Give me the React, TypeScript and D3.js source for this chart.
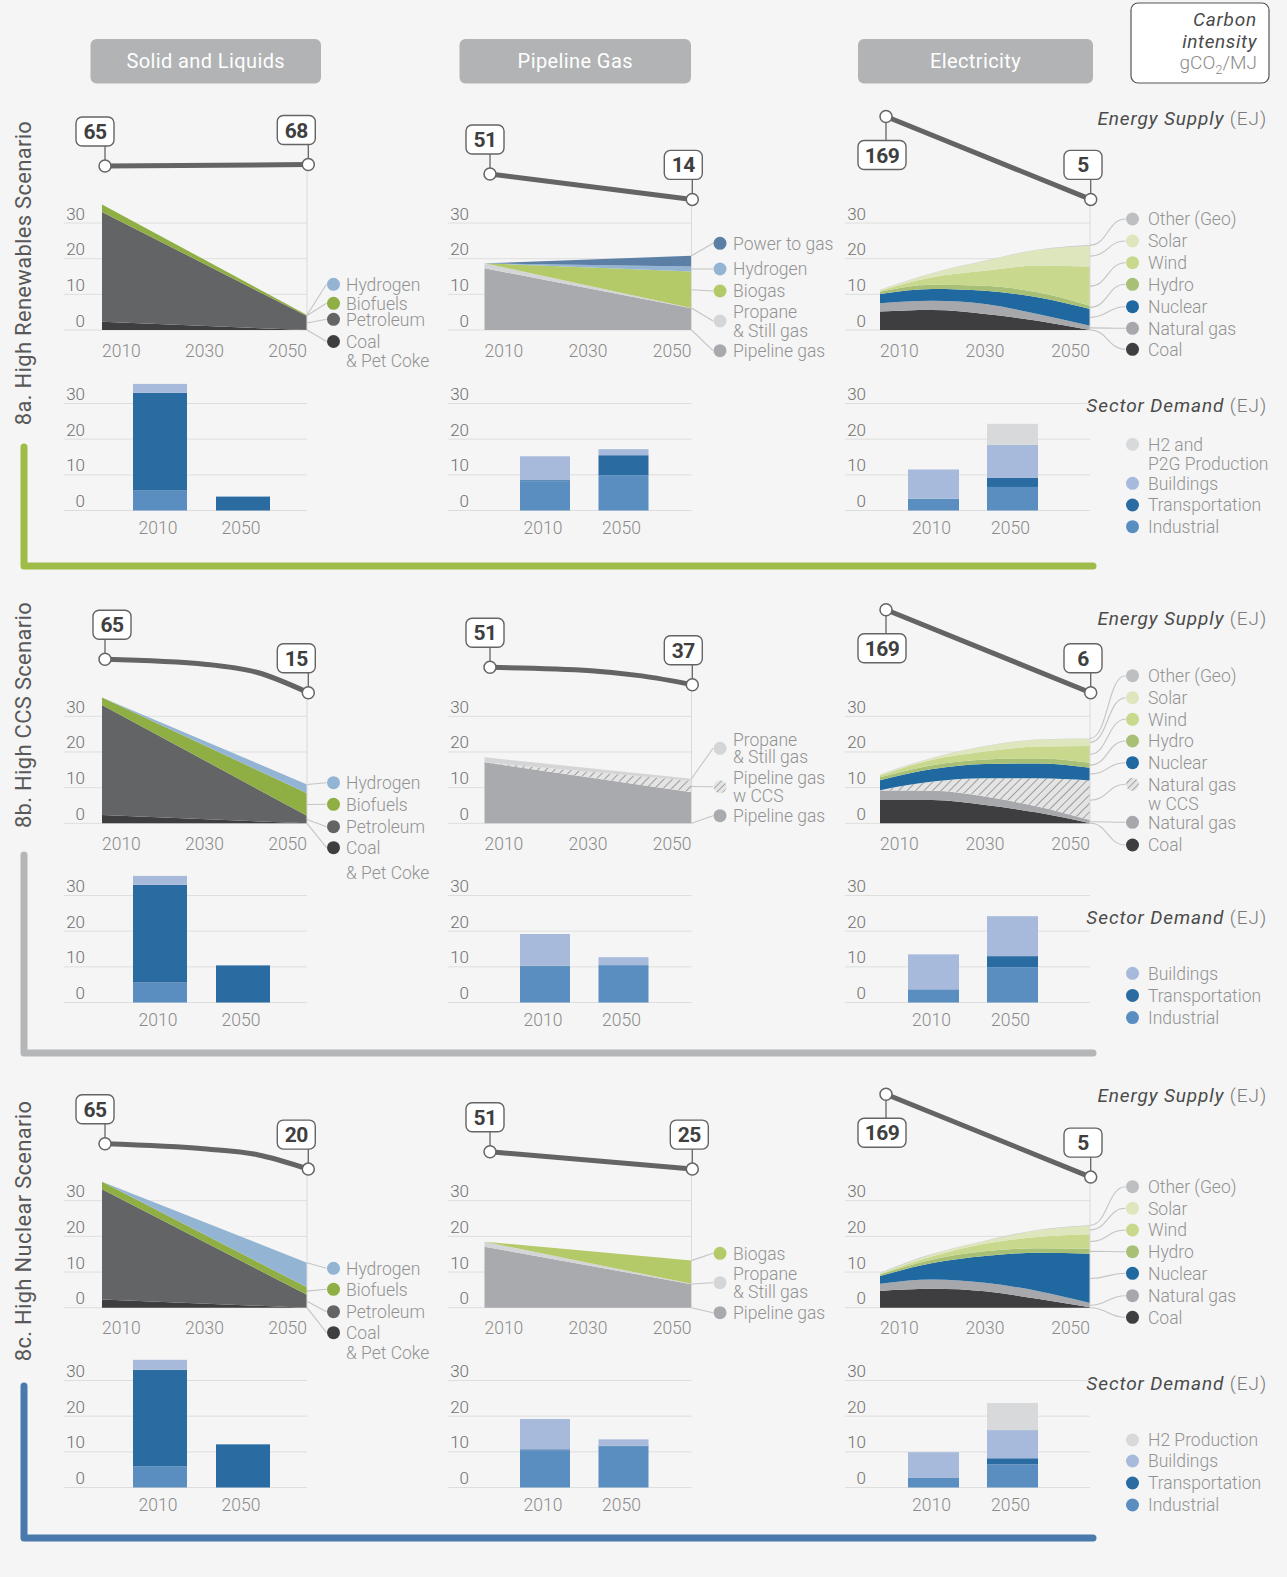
import React from 'react';
import * as d3 from 'd3';

const W = 1287;
const H = 1577;

// ================= DATA =================
const COLUMN_TITLES = ['Solid and Liquids', 'Pipeline Gas', 'Electricity'];
const SCENARIO_TITLES = ['8a. High Renewables Scenario', '8b. High CCS Scenario', '8c. High Nuclear Scenario'];
const Y_TICKS = [0, 10, 20, 30];
const X_TICKS = [2010, 2030, 2050];
const BAR_YEARS = ['2010', '2050'];
const TWO_YEARS = [2010, 2050];
const FIVE_YEARS = [2010, 2020, 2030, 2040, 2050];
const CURVE_YEARS = [2010, 2030, 2040, 2050];

// Solid and liquids supply (EJ), layers bottom -> top
const SL_KEYS = ['coal', 'petroleum', 'biofuels', 'hydrogen'];
const slRenewables = { coal: [2.3, 0], petroleum: [30.8, 3.9], biofuels: [2.1, 0.3], hydrogen: [0, 0] };
const slCcs = { coal: [2.3, 0], petroleum: [30.9, 2.1], biofuels: [2.1, 6.3], hydrogen: [0, 2.5] };
const slNuclear = { coal: [2.3, 0], petroleum: [30.9, 3.6], biofuels: [2.1, 2.1], hydrogen: [0, 6.9] };

// Pipeline gas supply (EJ)
const PG_KEYS_RENEWABLES = ['pipeline', 'propane', 'biogas', 'hydrogen', 'p2g'];
const pgRenewables = { pipeline: [17.3, 6.1], propane: [1.4, 0.1], biogas: [0, 10.2], hydrogen: [0, 1.4], p2g: [0, 3.0] };
const PG_KEYS_CCS = ['pipeline', 'pipelineCcs', 'propane'];
const pgCcs = { pipeline: [17.1, 8.7], pipelineCcs: [0, 3.2], propane: [1.4, 0.6] };
const PG_KEYS_NUCLEAR = ['pipeline', 'propane', 'biogas'];
const pgNuclear = { pipeline: [17.1, 6.6], propane: [1.4, 0.1], biogas: [0, 6.5] };

// Electricity supply (EJ)
const EL_KEYS = ['coal', 'natgas', 'nuclear', 'hydro', 'wind', 'solar', 'other'];
const EL_KEYS_CCS = ['coal', 'natgas', 'natgasCcs', 'nuclear', 'hydro', 'wind', 'solar', 'other'];
const elRenewables = {
  coal: [5.2, 5.6, 4.5, 2.6, 0],
  natgas: [2.3, 2.6, 2.8, 1.9, 1.2],
  nuclear: [2.6, 3.3, 3.7, 4.7, 4.7],
  hydro: [0.6, 1.2, 1.4, 1.4, 0.9],
  wind: [0.3, 2.1, 4.2, 7.4, 11.0],
  solar: [0.2, 1.1, 2.8, 4.4, 5.8],
  other: [0.1, 0.1, 0.1, 0.1, 0.2],
};
const elCcs = {
  coal: [6.5, 6.5, 5.1, 3.0, 0],
  natgas: [2.7, 2.6, 2.4, 1.7, 0.9],
  natgasCcs: [0.1, 2.6, 5.1, 7.9, 11.1],
  nuclear: [2.8, 3.5, 4.0, 4.2, 3.6],
  hydro: [0.8, 1.1, 1.3, 1.4, 1.4],
  wind: [0.5, 1.5, 2.2, 3.3, 4.7],
  solar: [0.2, 0.5, 1.5, 1.9, 2.0],
  other: [0.1, 0.1, 0.1, 0.1, 0.1],
};
const elNuclear = {
  coal: [4.7, 5.3, 4.6, 2.5, 0.1],
  natgas: [2.0, 2.6, 2.4, 2.2, 1.2],
  nuclear: [2.2, 4.6, 7.5, 10.7, 13.8],
  hydro: [0.4, 1.0, 1.3, 1.3, 1.4],
  wind: [0.2, 0.9, 2.1, 3.1, 4.1],
  solar: [0.2, 0.6, 0.8, 1.9, 2.4],
  other: [0.1, 0.1, 0.1, 0.1, 0.1],
};

// Sector demand (EJ), 2010 / 2050
const BAR_KEYS = ['industrial', 'transportation', 'buildings', 'h2'];
const demRenewablesSl = { industrial: [5.6, 0], transportation: [27.4, 3.9], buildings: [2.5, 0], h2: [0, 0] };
const demRenewablesPg = { industrial: [8.2, 9.9], transportation: [0.3, 5.6], buildings: [6.7, 1.7], h2: [0, 0] };
const demRenewablesEl = { industrial: [3.3, 6.6], transportation: [0, 2.6], buildings: [8.2, 9.2], h2: [0, 5.9] };
const demCcsSl = { industrial: [5.6, 0], transportation: [27.4, 10.4], buildings: [2.5, 0], h2: [0, 0] };
const demCcsPg = { industrial: [10.1, 10.4], transportation: [0.2, 0.1], buildings: [8.9, 2.2], h2: [0, 0] };
const demCcsEl = { industrial: [3.7, 9.9], transportation: [0, 3.1], buildings: [9.8, 11.2], h2: [0, 0] };
const demNuclearSl = { industrial: [5.9, 0], transportation: [27.1, 12.1], buildings: [2.8, 0], h2: [0, 0] };
const demNuclearPg = { industrial: [10.4, 11.5], transportation: [0.3, 0.2], buildings: [8.5, 1.8], h2: [0, 0] };
const demNuclearEl = { industrial: [2.8, 6.5], transportation: [0, 1.7], buildings: [7.1, 7.9], h2: [0, 7.6] };

// Carbon intensity (gCO2/MJ)
const intRenewablesSl = [65, 68];
const intRenewablesPg = [51, 14];
const intRenewablesEl = [169, 5];
const intCcsSl = [65, 56, 46.8, 15];
const intCcsPg = [51, 48.3, 44.1, 37];
const intCcsEl = [169, 6];
const intNuclearSl = [65, 55.7, 48.6, 20];
const intNuclearPg = [51, 25];
const intNuclearEl = [169, 5];

// legend labels
const SL_LABELS = { hydrogen: ['Hydrogen'], biofuels: ['Biofuels'], petroleum: ['Petroleum'], coal: ['Coal', '& Pet Coke'] };
const PG_LABELS = {
  p2g: ['Power to gas'], hydrogen: ['Hydrogen'], biogas: ['Biogas'], propane: ['Propane', '& Still gas'],
  pipelineCcs: ['Pipeline gas', 'w CCS'], pipeline: ['Pipeline gas'],
};
const EL_LABELS = {
  other: ['Other (Geo)'], solar: ['Solar'], wind: ['Wind'], hydro: ['Hydro'], nuclear: ['Nuclear'],
  natgasCcs: ['Natural gas', 'w CCS'], natgas: ['Natural gas'], coal: ['Coal'],
};
const BAR_LABELS_RENEWABLES = { h2: ['H2 and', 'P2G Production'], buildings: ['Buildings'], transportation: ['Transportation'], industrial: ['Industrial'] };
const BAR_LABELS_CCS = { buildings: ['Buildings'], transportation: ['Transportation'], industrial: ['Industrial'] };
const BAR_LABELS_NUCLEAR = { h2: ['H2 Production'], buildings: ['Buildings'], transportation: ['Transportation'], industrial: ['Industrial'] };

// ================= STYLE / LAYOUT =================
const FONT = "Roboto, 'Noto Sans', 'DejaVu Sans', sans-serif";
const C = {
  bg: '#f5f5f5', grid: '#dedede', tick: '#6f6f6f', year: '#8a8a8a', legend: '#929292',
  dark: '#3f3f3f', leader: '#c4c4c4', line: '#646464', header: '#b1b3b5',
};
const FILL: Record<string, string> = {
  coal: '#3e3e40', petroleum: '#636466', biofuels: '#8fae44', hydrogen: '#94b4d3',
  pipeline: '#a9aaad', propane: '#d4d5d7', biogas: '#b4ca69', p2g: '#5c7fa6', pipelineCcs: 'url(#hatch)',
  natgas: '#a7a8ab', natgasCcs: 'url(#hatch)', nuclear: '#1f68a0', hydro: '#a8c076', wind: '#c8d88d',
  solar: '#dde6bd', other: '#bebfc1',
  industrial: '#5b8ec0', transportation: '#2a6ba2', buildings: '#a8badb', h2: '#d8d9db',
};
const ROW_COLORS = ['#9fbc48', '#b4b6b8', '#4a79ae'];

const COLS: Record<string, any> = {
  sl: { x0: 102, x1: 307, ix0: 105, ix1: 308.3, firstDx: -29, lastDx: -31, gridX0: 64, tickX: 85, dotX: 333.5, textX: 346, barCenters: [160, 243], barW: 54, curved: false },
  pg: { x0: 484.5, x1: 691.5, ix0: 490, ix1: 692.3, firstDx: -24, lastDx: -28, gridX0: 448, tickX: 469, dotX: 720, textX: 733, barCenters: [545, 623.5], barW: 50, curved: false },
  el: { x0: 880, x1: 1090, ix0: 886, ix1: 1090.7, firstDx: -28, lastDx: -26.7, gridX0: 845, tickX: 866, dotX: 1132.5, textX: 1148, barCenters: [933.5, 1012.5], barW: 51, curved: true },
};
const ROWS = [
  { areaBase: 330, barBase: 510.5, labelCy: 273, bracket: [447, 566], esY: 125, sdY: 411.7 },
  { areaBase: 823.3, barBase: 1002.5, labelCy: 715, bracket: [855, 1053], esY: 625, sdY: 923.7 },
  { areaBase: 1307.7, barBase: 1487.5, labelCy: 1231, bracket: [1386, 1538], esY: 1101.7, sdY: 1390.3 },
];
const PX_PER_30 = 107;
const INT_DOMAIN = [5, 15, 20, 37, 51, 65, 169];
const INT_OFFSETS = [33.4, 33.4, 25.4, 25.4, 8, 0, -49.5];

const AREA_PANELS = [
  { row: 0, col: 'sl', years: TWO_YEARS, keys: SL_KEYS, series: slRenewables, labels: SL_LABELS, legendY: [284.3, 303.3, 319.3, 341.5], gap: 19, intYears: TWO_YEARS, intensity: intRenewablesSl },
  { row: 0, col: 'pg', years: TWO_YEARS, keys: PG_KEYS_RENEWABLES, series: pgRenewables, labels: PG_LABELS, legendY: [243.3, 269, 291, 321, 350.7], gap: 18.5, intYears: TWO_YEARS, intensity: intRenewablesPg },
  { row: 0, col: 'el', years: FIVE_YEARS, keys: EL_KEYS, series: elRenewables, labels: EL_LABELS, legendY: [219, 241, 262.7, 284.3, 306.7, 328.3, 349.3], gap: 19, intYears: TWO_YEARS, intensity: intRenewablesEl },
  { row: 1, col: 'sl', years: TWO_YEARS, keys: SL_KEYS, series: slCcs, labels: SL_LABELS, legendY: [782.7, 804.3, 826.7, 847.7], gap: 24.5, intYears: CURVE_YEARS, intensity: intCcsSl, firstDx: -12 },
  { row: 1, col: 'pg', years: TWO_YEARS, keys: PG_KEYS_CCS, series: pgCcs, labels: PG_LABELS, legendY: [748.3, 786.7, 815.7], gap: 17.5, intYears: CURVE_YEARS, intensity: intCcsPg },
  { row: 1, col: 'el', years: FIVE_YEARS, keys: EL_KEYS_CCS, series: elCcs, labels: EL_LABELS, legendY: [675.7, 697.7, 719.3, 741, 762.7, 784.3, 822.3, 845], gap: 19, intYears: TWO_YEARS, intensity: intCcsEl },
  { row: 2, col: 'sl', years: TWO_YEARS, keys: SL_KEYS, series: slNuclear, labels: SL_LABELS, legendY: [1268.3, 1289.3, 1311.7, 1332.7], gap: 20, intYears: CURVE_YEARS, intensity: intNuclearSl },
  { row: 2, col: 'pg', years: TWO_YEARS, keys: PG_KEYS_NUCLEAR, series: pgNuclear, labels: PG_LABELS, legendY: [1253.3, 1282.7, 1312.7], gap: 18.3, intYears: TWO_YEARS, intensity: intNuclearPg, lastDx: -22 },
  { row: 2, col: 'el', years: FIVE_YEARS, keys: EL_KEYS, series: elNuclear, labels: EL_LABELS, legendY: [1186.7, 1208.3, 1230, 1251.7, 1273.3, 1295.7, 1317.3], gap: 19, intYears: TWO_YEARS, intensity: intNuclearEl },
];
// multi-line labels whose dot sits in the middle of the lines
const MIDDLE_DOT = new Set(['propane', 'pipelineCcs']);

const BAR_PANELS = [
  { row: 0, col: 'sl', data: demRenewablesSl },
  { row: 0, col: 'pg', data: demRenewablesPg },
  { row: 0, col: 'el', data: demRenewablesEl, labels: BAR_LABELS_RENEWABLES, legendY: [444.3, 483.3, 505, 526.7] },
  { row: 1, col: 'sl', data: demCcsSl },
  { row: 1, col: 'pg', data: demCcsPg },
  { row: 1, col: 'el', data: demCcsEl, labels: BAR_LABELS_CCS, legendY: [973.3, 995.4, 1017.6] },
  { row: 2, col: 'sl', data: demNuclearSl },
  { row: 2, col: 'pg', data: demNuclearPg },
  { row: 2, col: 'el', data: demNuclearEl, labels: BAR_LABELS_NUCLEAR, legendY: [1440, 1461, 1483, 1505] },
];

const HEADERS = [
  { x: 90.5, w: 230.5 },
  { x: 459.5, w: 231.5 },
  { x: 858, w: 235 },
];

// ================= COMPONENTS =================
function yScale(base: number) {
  return d3.scaleLinear().domain([0, 30]).range([base, base - PX_PER_30]);
}

function Axis({ col, base }: any) {
  const y = yScale(base);
  return (
    <g>
      {Y_TICKS.map((t) => (
        <g key={t}>
          <line x1={col.gridX0} x2={col.x1} y1={y(t)} y2={y(t)} stroke={C.grid} strokeWidth={1} />
          <text x={col.tickX} y={y(t) - 3.5} textAnchor="end" fontSize={17} fontWeight={300} fill={C.tick}>
            {t}
          </text>
        </g>
      ))}
    </g>
  );
}

function LegendItem({ dotX, textX, y, lines, fill, middle, gap }: any) {
  const n = lines.length;
  return (
    <g>
      <circle cx={dotX} cy={y} r={6.5} fill={fill} />
      {lines.map((l: string, i: number) => {
        const ly = middle ? y + (i - (n - 1) / 2) * gap : y + i * gap;
        return (
          <text key={i} x={textX} y={ly} dy="0.36em" fontSize={17.5} fontWeight={300} fill={C.legend}>
            {l}
          </text>
        );
      })}
    </g>
  );
}

function ValueBox({ cx, cy, value, below, dx }: any) {
  const txt = String(value);
  const w = Math.max(38, txt.length * 11 + 15);
  const h = 29;
  const left = cx + dx;
  const top = below ? cy + 24 : cy - 20 - h;
  return (
    <g>
      <line x1={cx} x2={cx} y1={below ? cy + 6 : top + h} y2={below ? top : cy - 6} stroke={C.line} strokeWidth={1.3} />
      <rect x={left} y={top} width={w} height={h} rx={6} fill="#fff" stroke={C.line} strokeWidth={1.4} />
      <text x={left + w / 2} y={top + 22} textAnchor="middle" fontSize={21} fontWeight={700} letterSpacing={-0.5} fill={C.dark}>
        {txt}
      </text>
    </g>
  );
}

function AreaPanel({ p }: any) {
  const col = COLS[p.col];
  const base = ROWS[p.row].areaBase;
  const x = d3.scaleLinear().domain([2010, 2050]).range([col.x0, col.x1]);
  const xi = d3.scaleLinear().domain([2010, 2050]).range([col.ix0, col.ix1]);
  const y = yScale(base);
  const table = p.years.map((yr: number, i: number) => {
    const o: any = { year: yr };
    p.keys.forEach((k: string) => (o[k] = p.series[k][i]));
    return o;
  });
  const stacked = d3.stack<any>().keys(p.keys)(table);
  const area = d3
    .area<any>()
    .x((d) => x(d.data.year))
    .y0((d) => y(d[0]))
    .y1((d) => y(d[1]))
    .curve(col.curved ? d3.curveMonotoneX : d3.curveLinear);

  const iy = d3.scaleLinear().domain(INT_DOMAIN).range(INT_OFFSETS.map((o) => base - 164 + o));
  const pts: [number, number][] = p.intensity.map((v: number, i: number) => [xi(p.intYears[i]), iy(v)]);
  const line = d3.line().curve(d3.curveMonotoneX)(pts) as string;
  const first = pts[0];
  const last = pts[pts.length - 1];

  const legendKeys = [...p.keys].reverse();
  const link = d3.linkHorizontal();

  return (
    <g>
      <Axis col={col} base={base} />
      {stacked.map((layer: any) => (
        <path key={layer.key} d={area(layer) as string} fill={FILL[layer.key]} />
      ))}
      <line x1={col.x1} x2={col.x1} y1={last[1]} y2={base} stroke="#dadada" strokeWidth={1} />
      {legendKeys.map((k: string, i: number) => {
        const ki = p.keys.indexOf(k);
        const layer = stacked[ki];
        const end = layer[layer.length - 1];
        let sy: number;
        if (ki === p.keys.length - 1) sy = y(end[1]);
        else if (ki === 0) sy = y(end[0]);
        else sy = y((end[0] + end[1]) / 2);
        const ty = p.legendY[i];
        const tx = col.dotX - 7;
        const d = col.curved
          ? (link({ source: [col.x1, sy], target: [tx, ty] } as any) as string)
          : `M${col.x1},${sy}L${tx},${ty}`;
        return <path key={k} d={d} fill="none" stroke={C.leader} strokeWidth={1.1} />;
      })}
      {legendKeys.map((k: string, i: number) => (
        <LegendItem
          key={k}
          dotX={col.dotX}
          textX={col.textX}
          y={p.legendY[i]}
          lines={p.labels[k]}
          fill={k.endsWith('Ccs') ? 'url(#hatchSmall)' : FILL[k]}
          middle={MIDDLE_DOT.has(k)}
          gap={p.gap}
        />
      ))}
      {X_TICKS.map((t, i) => (
        <text
          key={t}
          x={x(t)}
          y={base + 26.7}
          textAnchor={i === 0 ? 'start' : i === X_TICKS.length - 1 ? 'end' : 'middle'}
          fontSize={17.5}
          fontWeight={300}
          fill={C.year}
        >
          {t}
        </text>
      ))}
      <path d={line} fill="none" stroke={C.line} strokeWidth={5} strokeLinecap="round" />
      <ValueBox cx={first[0]} cy={first[1]} value={p.intensity[0]} below={p.col === 'el'} dx={p.firstDx ?? col.firstDx} />
      <ValueBox cx={last[0]} cy={last[1]} value={p.intensity[p.intensity.length - 1]} dx={p.lastDx ?? col.lastDx} />
      <circle cx={first[0]} cy={first[1]} r={6} fill="#fff" stroke={C.line} strokeWidth={1.5} />
      <circle cx={last[0]} cy={last[1]} r={6} fill="#fff" stroke={C.line} strokeWidth={1.5} />
    </g>
  );
}

function BarPanel({ b }: any) {
  const col = COLS[b.col];
  const base = ROWS[b.row].barBase;
  const y = yScale(base);
  const xp = d3.scalePoint<string>().domain(BAR_YEARS).range(col.barCenters);
  const table = BAR_YEARS.map((yr, i) => {
    const o: any = { year: yr };
    BAR_KEYS.forEach((k) => (o[k] = (b.data as any)[k][i]));
    return o;
  });
  const stacked = d3.stack<any>().keys(BAR_KEYS)(table);
  const legendKeys = b.labels ? [...BAR_KEYS].reverse().filter((k) => b.labels[k]) : [];
  return (
    <g>
      <Axis col={col} base={base} />
      {stacked.map((layer: any) =>
        layer.map((d: any) =>
          d[1] - d[0] > 0 ? (
            <rect
              key={layer.key + d.data.year}
              x={(xp(d.data.year) as number) - col.barW / 2}
              width={col.barW}
              y={y(d[1])}
              height={y(d[0]) - y(d[1])}
              fill={FILL[layer.key]}
            />
          ) : null
        )
      )}
      {BAR_YEARS.map((yr) => (
        <text key={yr} x={(xp(yr) as number) - 2} y={base + 23.5} textAnchor="middle" fontSize={17.5} fontWeight={300} fill={C.year}>
          {yr}
        </text>
      ))}
      {legendKeys.map((k, i) => (
        <LegendItem key={k} dotX={col.dotX} textX={col.textX} y={b.legendY[i]} lines={b.labels[k]} fill={FILL[k]} middle={false} gap={19} />
      ))}
    </g>
  );
}

export default function App() {
  return (
    <svg
      width={W}
      height={H}
      viewBox={`0 0 ${W} ${H}`}
      style={{ position: 'absolute', left: 0, top: 0, display: 'block' }}
      fontFamily={FONT}
    >
      <defs>
        <pattern id="hatch" width={6} height={6} patternUnits="userSpaceOnUse" patternTransform="rotate(45)">
          <rect width={6} height={6} fill="#e4e4e4" />
          <line x1={0} y1={0} x2={0} y2={6} stroke="#9d9d9d" strokeWidth={2} />
        </pattern>
        <pattern id="hatchSmall" width={4.5} height={4.5} patternUnits="userSpaceOnUse" patternTransform="rotate(45)">
          <rect width={4.5} height={4.5} fill="#e4e4e4" />
          <line x1={0} y1={0} x2={0} y2={4.5} stroke="#a0a0a0" strokeWidth={1.8} />
        </pattern>
      </defs>
      <rect width={W} height={H} fill={C.bg} />

      {/* column headers */}
      {COLUMN_TITLES.map((t, i) => (
        <g key={t}>
          <rect x={HEADERS[i].x} y={39} width={HEADERS[i].w} height={44.5} rx={6} fill={C.header} />
          <text x={HEADERS[i].x + HEADERS[i].w / 2} y={68} textAnchor="middle" fontSize={20} letterSpacing={0.4} fill="#fff">
            {t}
          </text>
        </g>
      ))}

      {/* carbon intensity key */}
      <rect x={1131} y={3} width={138} height={80} rx={7} fill="#fff" stroke="#555" strokeWidth={1.2} />
      <text x={1257} y={26} textAnchor="end" fontSize={19} fontStyle="italic" letterSpacing={0.8} fill="#4a4a4a">Carbon</text>
      <text x={1257} y={47.5} textAnchor="end" fontSize={19} fontStyle="italic" letterSpacing={0.6} fill="#4a4a4a">intensity</text>
      <text x={1257} y={69} textAnchor="end" fontSize={19} fontWeight={300} fill="#8a8a8a">
        gCO<tspan fontSize={13} dy={5}>2</tspan>
        <tspan dy={-5}>/MJ</tspan>
      </text>

      {ROWS.map((r, i) => (
        <g key={i}>
          <text
            transform={`translate(31,${r.labelCy}) rotate(-90)`}
            textAnchor="middle"
            fontSize={22}
            fill="#585858"
            letterSpacing={0.3}
          >
            {SCENARIO_TITLES[i]}
          </text>
          <path
            d={`M24,${r.bracket[0]}V${r.bracket[1]}H1093`}
            fill="none"
            stroke={ROW_COLORS[i]}
            strokeWidth={7}
            strokeLinecap="round"
            strokeLinejoin="round"
          />
          <text x={1267} y={r.esY} textAnchor="end" fontSize={19} fill="#4a4a4a" letterSpacing={0.9}>
            <tspan fontStyle="italic">Energy Supply</tspan>
            <tspan fill="#7a7a7a" fontWeight={300}> (EJ)</tspan>
          </text>
          <text x={1267} y={r.sdY} textAnchor="end" fontSize={19} fill="#4a4a4a" letterSpacing={0.9}>
            <tspan fontStyle="italic">Sector Demand</tspan>
            <tspan fill="#7a7a7a" fontWeight={300}> (EJ)</tspan>
          </text>
        </g>
      ))}

      {BAR_PANELS.map((b, i) => (
        <BarPanel key={'b' + i} b={b} />
      ))}
      {AREA_PANELS.map((p, i) => (
        <AreaPanel key={'a' + i} p={p} />
      ))}
    </svg>
  );
}
